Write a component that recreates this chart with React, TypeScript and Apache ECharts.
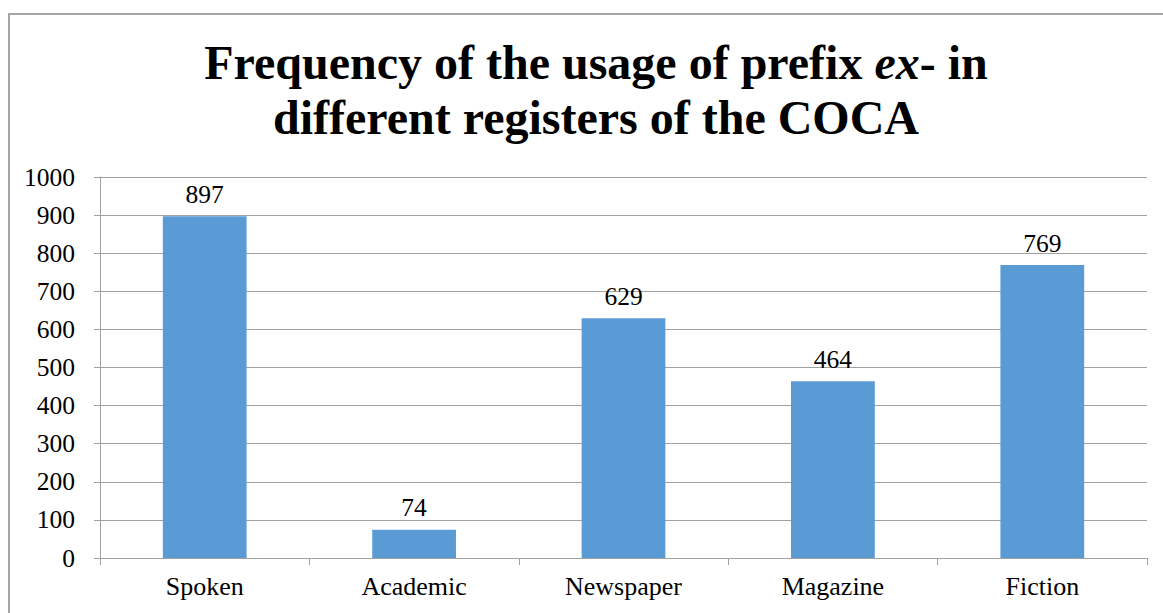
import React, { useEffect, useRef } from "react";
import * as echarts from "echarts";

const categories = ["Spoken", "Academic", "Newspaper", "Magazine", "Fiction"];
const frequencies = [897, 74, 629, 464, 769];
const yTicks = { min: 0, max: 1000, interval: 100 };

const FONT = "'Liberation Serif', 'Times New Roman', Times, serif";

export default function App() {
  const ref = useRef<HTMLDivElement>(null);
  useEffect(() => {
    if (!ref.current) return;
    const chart = echarts.init(ref.current, null, { renderer: "svg" });
    chart.setOption({
      animation: false,
      backgroundColor: "#ffffff",
      title: {
        left: 591,
        top: 30,
        textAlign: "center",
        text: "{b|Frequency of the usage of prefix }{i|ex}{b|- in}\n{b|different registers of the COCA}",
        textStyle: {
          rich: {
            b: { fontFamily: FONT, fontSize: 48, fontWeight: "bold", color: "#000", lineHeight: 55 },
            i: { fontFamily: FONT, fontSize: 48, fontWeight: "bold", fontStyle: "italic", color: "#000", lineHeight: 55 },
          },
        },
      },
      graphic: [
        {
          type: "rect",
          shape: { x: 9, y: 14, width: 1300, height: 800 },
          style: { fill: "none", stroke: "#a6a6a6", lineWidth: 2 },
          silent: true,
        },
      ],
      grid: { left: 100, right: 16, top: 177, bottom: 55, containLabel: false },
      xAxis: {
        type: "category",
        data: categories,
        boundaryGap: true,
        axisLine: { show: true, lineStyle: { color: "#a0a0a0", width: 1 } },
        axisTick: { show: true, length: 7, alignWithLabel: false, lineStyle: { color: "#a0a0a0" } },
        axisLabel: { fontFamily: FONT, fontSize: 26, color: "#000", margin: 15 },
        splitLine: { show: false },
      },
      yAxis: {
        type: "value",
        min: yTicks.min,
        max: yTicks.max,
        interval: yTicks.interval,
        axisLine: { show: true, lineStyle: { color: "#a0a0a0", width: 1 } },
        axisTick: { show: true, length: 6, lineStyle: { color: "#a0a0a0" } },
        axisLabel: {
          fontFamily: FONT,
          fontSize: 25.5,
          color: "#000",
          margin: 25,
          formatter: (v: number) => String(v),
        },
        splitLine: { show: true, lineStyle: { color: "#a0a0a0", width: 1 } },
      },
      series: [
        {
          type: "bar",
          data: frequencies,
          barWidth: "40%",
          itemStyle: { color: "#5b9bd5" },
          label: {
            show: true,
            position: "top",
            distance: 9,
            fontFamily: FONT,
            fontSize: 25.5,
            color: "#000",
          },
        },
      ],
    });
    return () => chart.dispose();
  }, []);
  return (
    <div
      ref={ref}
      style={{ position: "fixed", left: 0, top: 0, width: 1163, height: 613 }}
    />
  );
}
